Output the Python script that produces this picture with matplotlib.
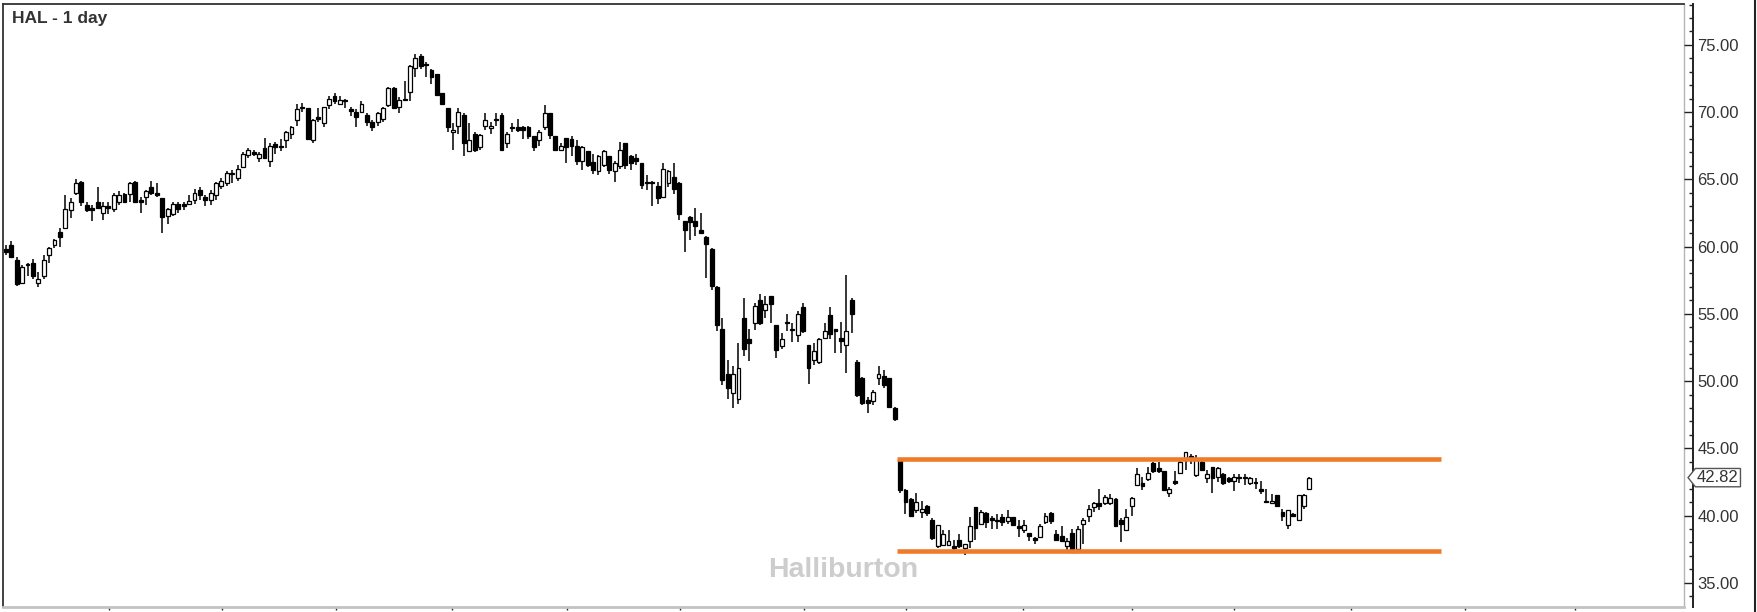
import matplotlib
matplotlib.use('Agg')
from matplotlib import pyplot as plt
from matplotlib.lines import Line2D
from matplotlib.path import Path
from matplotlib import transforms

plt.rcParams['font.family'] = ['Liberation Sans', 'DejaVu Sans']

# daily OHLC (243 sessions)
opens = [
	59.8, 60.1, 59.0, 57.3, 58.7, 58.8, 57.3, 57.8, 59.4, 60.1,
	61.1, 61.4, 62.7, 63.96, 64.8, 63.1, 62.9, 63.3, 62.5, 63.0,
	62.8, 63.3, 63.9, 63.9, 64.8, 63.5, 63.7, 64.4, 63.96, 63.6,
	62.3, 62.4, 63.2, 63.2, 63.2, 63.5, 64.2, 63.7, 63.5, 63.8,
	64.5, 64.7, 65.4, 65.1, 65.9, 66.8, 67.0, 66.6, 67.3, 66.4,
	67.6, 67.5, 67.9, 68.4, 69.4, 70.4, 70.3, 67.9, 69.6, 69.2,
	70.5, 71.2, 70.6, 70.9, 70.2, 70.0, 70.0, 69.8, 69.3, 69.3,
	69.5, 70.5, 71.8, 70.4, 71.0, 71.5, 73.3, 74.2, 73.6, 73.1,
	72.8, 71.4, 70.3, 68.5, 69.0, 69.8, 67.1, 68.4, 67.4, 69.0,
	68.8, 69.5, 69.8, 67.7, 68.9, 68.9, 68.9, 68.9, 68.2, 67.9,
	68.9, 69.9, 68.2, 67.2, 68.1, 68.0, 67.5, 66.4, 67.1, 66.3,
	65.6, 66.1, 66.7, 65.6, 66.0, 67.7, 66.7, 66.6, 66.2, 64.8,
	64.8, 64.5, 63.7, 64.7, 65.2, 64.7, 61.9, 62.2, 61.9, 61.2,
	60.7, 59.8, 57.0, 53.9, 50.5, 49.1, 48.7, 54.7, 53.1, 54.3,
	56.0, 55.3, 56.3, 54.2, 52.6, 54.4, 53.9, 53.4, 55.5, 52.7,
	51.6, 51.4, 53.2, 54.9, 53.9, 53.2, 52.7, 56.0, 51.4, 50.2,
	48.6, 48.5, 50.2, 50.4, 50.2, 48.0, 44.2, 41.9, 41.2, 40.4,
	40.3, 40.7, 39.7, 37.7, 37.8, 37.8, 37.7, 38.2, 37.6, 38.1,
	40.6, 39.4, 40.2, 39.8, 39.7, 39.9, 39.6, 39.9, 39.2, 38.9,
	38.7, 38.3, 38.4, 39.5, 40.2, 38.6, 38.5, 37.7, 38.7, 37.5,
	39.4, 40.0, 40.6, 40.9, 40.9, 40.96, 41.2, 39.7, 38.9, 40.7,
	42.3, 42.4, 42.7, 43.9, 43.5, 43.3, 41.7, 42.6, 43.2, 44.1,
	44.4, 43.0, 44.0, 42.8, 43.6, 42.9, 43.1, 42.8, 42.6, 42.9,
	42.9, 42.4, 42.5, 41.95, 41.1, 40.96, 41.5, 40.3, 39.3, 40.1,
	39.7, 40.7, 42.0,
]
highs = [
	60.1, 60.4, 59.2, 58.6, 58.8, 59.1, 58.1, 59.4, 60.0, 60.6,
	61.4, 63.8, 63.6, 65.0, 64.9, 63.3, 63.1, 64.4, 63.3, 63.3,
	64.0, 64.1, 63.96, 64.8, 64.9, 63.7, 64.2, 64.9, 64.7, 63.6,
	62.9, 63.3, 63.3, 63.3, 63.8, 64.3, 64.4, 63.8, 64.2, 64.8,
	65.1, 65.6, 65.7, 66.1, 67.0, 67.3, 67.2, 67.0, 68.1, 67.7,
	67.8, 68.0, 68.6, 69.0, 70.6, 70.7, 70.3, 69.5, 70.3, 70.4,
	71.2, 71.4, 71.2, 71.0, 70.4, 70.2, 70.8, 69.9, 69.4, 70.0,
	70.4, 71.9, 71.9, 71.1, 72.3, 73.5, 74.3, 74.3, 73.7, 73.2,
	72.8, 71.4, 70.3, 69.2, 70.3, 69.9, 69.2, 68.5, 68.4, 69.9,
	69.3, 69.9, 69.9, 68.5, 69.2, 69.5, 69.0, 69.0, 68.2, 68.7,
	70.5, 69.9, 68.2, 67.7, 68.1, 68.2, 67.9, 67.5, 67.1, 66.9,
	66.8, 67.2, 66.7, 66.4, 67.8, 67.7, 66.8, 66.9, 66.2, 65.3,
	64.9, 64.8, 66.2, 65.7, 66.2, 64.8, 61.9, 62.3, 62.9, 62.5,
	60.8, 59.9, 57.1, 54.7, 51.6, 51.1, 52.8, 56.2, 53.9, 55.8,
	56.5, 56.3, 56.3, 54.2, 53.6, 55.0, 54.3, 55.2, 55.8, 52.7,
	52.8, 53.2, 54.3, 55.5, 53.9, 54.4, 57.9, 56.2, 51.6, 50.3,
	48.8, 49.3, 51.1, 50.8, 50.2, 48.1, 44.2, 42.0, 41.3, 41.7,
	41.1, 40.8, 39.8, 39.3, 38.9, 38.9, 38.2, 38.6, 37.9, 39.9,
	40.6, 40.4, 40.3, 40.0, 40.1, 40.1, 40.4, 39.9, 39.7, 39.7,
	38.7, 38.4, 39.4, 40.2, 40.3, 38.9, 39.2, 38.3, 39.0, 39.2,
	39.8, 40.8, 41.0, 42.0, 41.5, 41.6, 41.3, 39.8, 40.5, 41.4,
	43.5, 42.9, 43.6, 44.0, 44.0, 43.3, 42.1, 43.3, 44.1, 44.7,
	44.6, 44.5, 44.1, 43.4, 43.6, 43.6, 43.2, 42.9, 43.1, 43.1,
	43.1, 42.9, 42.8, 42.6, 42.0, 41.6, 41.5, 40.5, 40.4, 40.2,
	41.5, 41.6, 42.9,
]
lows = [
	59.4, 59.2, 57.1, 57.3, 57.8, 57.6, 57.0, 57.6, 58.8, 59.9,
	60.0, 61.4, 62.1, 63.8, 63.0, 62.6, 61.9, 62.8, 62.0, 62.4,
	62.6, 63.1, 63.3, 63.3, 63.3, 62.5, 63.1, 63.8, 63.7, 61.0,
	61.7, 62.3, 62.5, 62.7, 63.1, 63.2, 63.5, 63.0, 63.1, 63.5,
	64.3, 64.5, 64.7, 64.9, 65.9, 66.6, 66.7, 66.3, 66.6, 65.9,
	66.9, 67.1, 67.3, 68.0, 69.0, 70.0, 67.9, 67.7, 69.3, 68.9,
	70.2, 70.6, 70.5, 70.3, 69.7, 68.9, 69.9, 69.0, 68.6, 69.0,
	69.3, 70.4, 70.2, 69.9, 70.8, 70.8, 72.6, 73.2, 72.6, 72.1,
	71.2, 70.5, 68.5, 67.2, 68.4, 66.7, 67.1, 67.0, 67.2, 68.7,
	68.4, 69.0, 67.1, 67.3, 68.5, 68.5, 68.0, 68.0, 67.1, 67.5,
	68.7, 68.0, 67.2, 67.1, 66.2, 66.7, 66.1, 65.7, 65.9, 65.4,
	65.3, 65.9, 65.4, 64.8, 65.8, 65.8, 65.7, 66.1, 64.3, 64.2,
	63.0, 63.2, 63.6, 64.4, 63.9, 62.0, 59.6, 60.5, 60.8, 60.9,
	57.7, 56.8, 53.7, 49.7, 48.7, 48.0, 48.3, 51.9, 51.5, 53.8,
	54.2, 54.7, 54.3, 51.7, 52.4, 53.7, 52.9, 52.9, 53.6, 49.8,
	51.2, 51.3, 53.1, 53.1, 52.1, 52.1, 50.6, 53.6, 48.8, 48.2,
	47.6, 48.2, 49.7, 49.5, 48.0, 47.0, 41.7, 40.1, 40.0, 40.2,
	39.8, 40.0, 38.2, 37.6, 37.7, 37.7, 37.2, 37.6, 37.1, 37.6,
	38.2, 39.4, 39.1, 39.0, 39.0, 39.2, 39.4, 39.2, 38.4, 38.7,
	38.1, 37.9, 38.3, 39.4, 39.4, 38.1, 38.0, 37.4, 37.2, 37.4,
	37.9, 39.5, 40.3, 40.4, 40.8, 40.8, 39.2, 38.0, 38.9, 40.0,
	42.3, 41.9, 42.6, 43.2, 43.2, 41.8, 41.4, 42.3, 43.1, 43.4,
	43.8, 42.9, 43.4, 42.4, 41.7, 42.5, 42.3, 42.4, 41.8, 42.4,
	42.3, 42.3, 42.0, 41.6, 41.0, 40.9, 40.7, 39.6, 39.0, 39.9,
	39.7, 40.5, 41.9,
]
closes = [
	59.6, 59.2, 57.2, 58.5, 58.6, 57.8, 57.6, 59.0, 59.9, 60.5,
	60.7, 62.8, 63.3, 64.7, 63.3, 62.7, 62.7, 62.9, 63.0, 62.9,
	63.8, 63.8, 63.3, 64.7, 63.3, 63.3, 64.1, 63.96, 63.8, 62.2,
	62.8, 63.2, 62.8, 63.0, 63.4, 63.96, 63.8, 63.5, 63.96, 64.7,
	64.9, 65.5, 65.5, 65.8, 66.9, 67.2, 66.9, 66.9, 66.6, 67.5,
	67.4, 67.4, 68.5, 68.9, 70.2, 70.3, 68.0, 69.4, 69.5, 70.4,
	71.0, 70.8, 70.9, 70.8, 70.1, 69.6, 70.6, 69.3, 68.9, 69.9,
	70.3, 71.8, 70.3, 70.9, 70.9, 73.4, 74.0, 73.4, 73.5, 72.6,
	71.3, 70.6, 68.9, 68.7, 70.0, 67.7, 67.9, 67.2, 68.3, 69.4,
	69.0, 69.4, 67.2, 68.4, 68.8, 68.7, 68.7, 68.2, 67.4, 68.5,
	69.9, 68.3, 67.2, 67.5, 67.4, 67.5, 66.4, 67.4, 66.1, 65.7,
	66.7, 67.1, 65.7, 66.2, 67.2, 66.1, 66.2, 66.4, 64.6, 64.7,
	64.7, 63.6, 65.8, 65.6, 64.3, 62.4, 61.2, 61.8, 61.5, 61.0,
	60.2, 57.1, 54.2, 50.1, 49.5, 50.5, 51.0, 52.4, 52.8, 55.6,
	54.3, 55.7, 55.7, 52.3, 53.1, 54.3, 53.8, 55.0, 53.7, 51.0,
	52.2, 53.1, 53.7, 53.5, 53.7, 53.0, 53.7, 55.0, 49.0, 48.4,
	48.4, 49.2, 50.5, 49.7, 48.1, 47.2, 41.9, 41.0, 40.0, 41.0,
	40.5, 40.2, 38.3, 39.3, 38.6, 38.1, 37.6, 37.7, 37.9, 39.2,
	39.1, 40.3, 39.5, 39.7, 39.6, 39.5, 39.9, 39.3, 39.1, 39.3,
	38.5, 38.2, 39.2, 40.0, 39.6, 38.2, 38.1, 38.1, 37.3, 39.0,
	39.7, 40.5, 40.9, 40.7, 41.4, 41.3, 39.2, 39.4, 39.9, 41.3,
	43.1, 42.2, 43.2, 43.3, 43.3, 41.9, 42.0, 42.4, 44.0, 44.7,
	44.3, 44.1, 43.4, 43.1, 42.8, 43.5, 42.4, 42.6, 42.9, 42.8,
	42.8, 42.8, 42.4, 41.8, 41.0, 41.1, 40.7, 40.0, 40.4, 40.0,
	41.5, 41.5, 42.82,
]

# unlabeled month separators (session index)
month_ticks = [20.1, 41.1, 62.3, 83.8, 105.2, 126.2, 149.2, 168.1,
	189.9, 210.1, 229.0, 250.7, 271.8, 292.4]

# trading range drawn on the chart
range_top = 44.2
range_bottom = 37.4
range_from = 166.4
range_to = 267.4

price_ticks = [35, 40, 45, 50, 55, 60, 65, 70, 75]

W, H = 1758, 612
fig = plt.figure(figsize=(W/100, H/100), dpi=100)
fig.patch.set_facecolor('white')

ax = fig.add_axes([3/W, 5/H, 1681/W, 603/H])
ax.set_xlim(0.443, 312.55)
ax.set_ylim(33.2, 78.04)

# candles
x = list(range(1, len(closes) + 1))
body_w = 0.72
for i, o, h, l, c in zip(x, opens, highs, lows, closes):
	up = c >= o
	ax.vlines(i, l, h, color='black', lw=1.1, zorder=2)
	bottom = min(o, c)
	height = max(abs(c - o), 0.07)
	ax.bar(i, height, bottom=bottom, width=body_w,
		color='white' if up else 'black', edgecolor='black', lw=0.9, zorder=2.5)

ax.hlines([range_top, range_bottom], range_from, range_to,
	colors='#ef7a2a', lw=3.3, zorder=3)

ax.text(0.5, 0.062, 'Halliburton', transform=ax.transAxes, ha='center', va='center',
	fontsize=20.5, fontweight='bold', color='#cdcdcd', zorder=0)

for side in ['left', 'top']:
	ax.spines[side].set_color('#333333')
	ax.spines[side].set_linewidth(1.3)
ax.spines['right'].set_color('#b5b5b5')
ax.spines['right'].set_linewidth(1.0)
ax.spines['bottom'].set_color('#c2c2c2')
ax.spines['bottom'].set_linewidth(2.0)

ax.set_yticks([])
ax.set_xticks(month_ticks)
ax.tick_params(axis='x', direction='out', length=2.5, width=1, color='#222222',
	labelbottom=False)

# price scale
axp = fig.add_axes([1684/W, 5/H, 9/W, 603/H])
axp.set_ylim(ax.get_ylim())
axp.set_xticks([])
axp.patch.set_alpha(0)
for side in ['left', 'top', 'bottom']:
	axp.spines[side].set_visible(False)
axp.spines['right'].set_color('#222222')
axp.spines['right'].set_linewidth(1.4)
axp.yaxis.tick_right()
axp.set_yticks(price_ticks)
axp.set_yticks(range(34, 79), minor=True)
axp.set_yticklabels([f'{v:.2f}' for v in price_ticks])
axp.tick_params(axis='y', which='major', direction='in', length=6.3, width=1,
	color='#222222', labelsize=12, labelcolor='#333333', pad=3)
axp.tick_params(axis='y', which='minor', direction='in', length=3, width=1,
	color='#222222')


def price_tag(x0, y0, width, height, mutation_size):
	pad = 0.1 * mutation_size
	x0, y0 = x0 - pad, y0 - pad
	x1, y1 = x0 + width + 2*pad, y0 + height + 2*pad
	ym = (y0 + y1) / 2
	tip = 0.8 * (y1 - y0) / 2
	verts = [(x0 - tip, ym), (x0, y0), (x1, y0), (x1, y1), (x0, y1), (x0 - tip, ym)]
	return Path(verts, closed=True)


last = closes[-1]
tag_tr = transforms.blended_transform_factory(axp.transAxes, axp.transData)
axp.text(1.45, last, f'{last:.2f}', transform=tag_tr, ha='left', va='center',
	fontsize=12, color='#333333', zorder=5,
	bbox=dict(boxstyle=price_tag, facecolor='white', edgecolor='#555555', lw=1))

# outer right border
fig.add_artist(Line2D([1755/W, 1755/W], [0, 1], transform=fig.transFigure,
	color='#222222', lw=1.5))

fig.text(12/W, 1 - 18/H, 'HAL - 1 day', fontsize=12.5, fontweight='bold',
	color='#333333', ha='left', va='center')

fig.savefig('out.png', dpi=100)
